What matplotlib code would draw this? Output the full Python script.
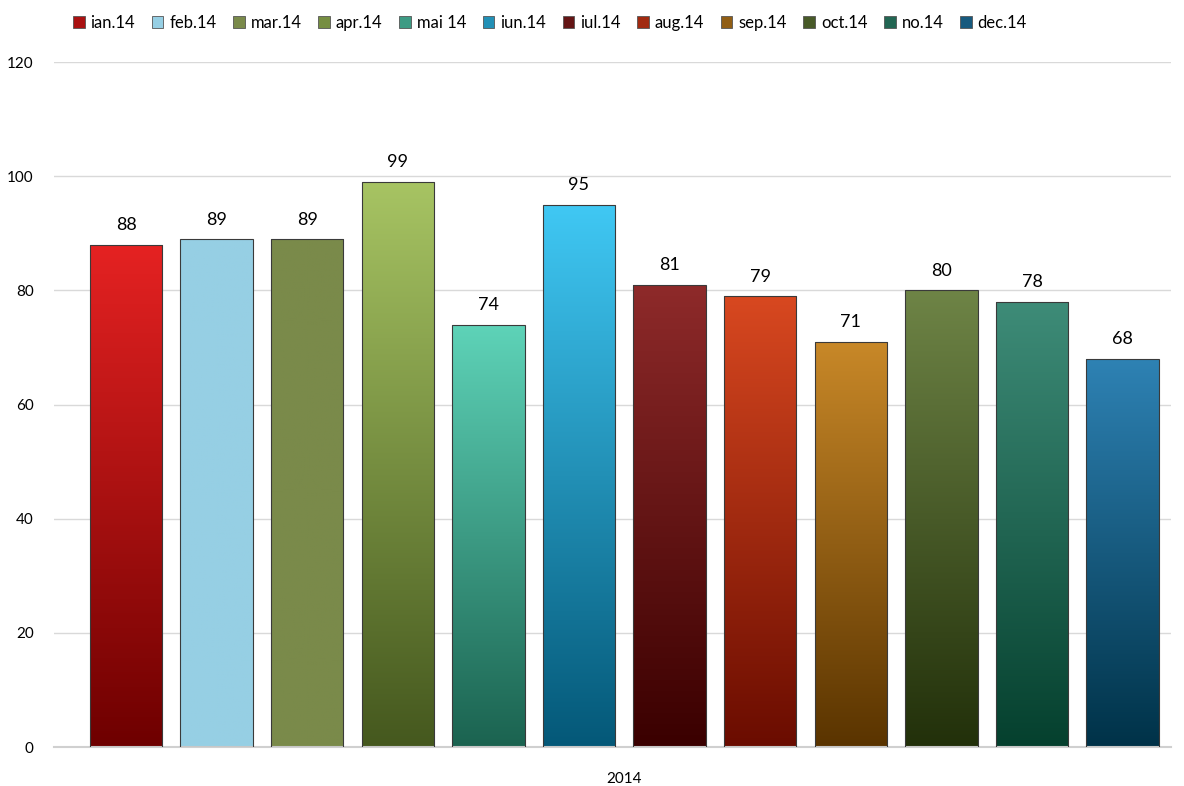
import numpy as np
import matplotlib.pyplot as plt
from matplotlib.colors import LinearSegmentedColormap, to_rgb

months = ['ian.14', 'feb.14', 'mar.14', 'apr.14', 'mai 14', 'iun.14',
          'iul.14', 'aug.14', 'sep.14', 'oct.14', 'no.14', 'dec.14']
values = [88, 89, 89, 99, 74, 95, 81, 79, 71, 80, 78, 68]
top_colors = ['#E52222', '#96CFE4', '#7A8A4A', '#A7C463', '#5ED3B8', '#40C8F4',
              '#8E2A2A', '#D84820', '#C88828', '#6E8446', '#3E8C78', '#2E82B4']
bottom_colors = ['#6E0000', '#96CFE4', '#7A8A4A', '#45581E', '#1B6350', '#045878',
                 '#3A0000', '#6A0C00', '#5A3400', '#22300A', '#05402E', '#003248']
category = '2014'

plt.rcParams['font.family'] = ['Lato', 'DejaVu Sans']

fig = plt.figure(figsize=(11.84, 7.86), dpi=100)
ax = fig.add_axes([0.046, 0.0496, 0.9434, 0.8715])

x = np.arange(len(values))
bars = ax.bar(x, values, width=0.8, color='none', edgecolor='#3a3a3a',
              linewidth=0.8, zorder=3, label='_nolegend_')

# Vertical gradient inside each bar, clipped to the bar shape.
grad = np.linspace(0, 1, 256).reshape(-1, 1)
for bar, top, bot in zip(bars, top_colors, bottom_colors):
    cmap = LinearSegmentedColormap.from_list('g', [bot, top])
    x0, w, h = bar.get_x(), bar.get_width(), bar.get_height()
    im = ax.imshow(grad, cmap=cmap, aspect='auto', origin='lower',
                   extent=[x0, x0 + w, 0, h], zorder=2)
    im.set_clip_path(bar)
    ax.text(bar.get_x() + w / 2, h + 2.0, str(int(h)), ha='center',
            va='bottom', fontsize=13, color='#000000')

# Legend handles use the middle colour of each gradient
for m, top, bot in zip(months, top_colors, bottom_colors):
    mid = tuple((a + b) / 2 for a, b in zip(to_rgb(top), to_rgb(bot)))
    ax.bar(0, 0, color=mid, edgecolor='#555555', linewidth=0.6, label=m)

ax.set_xlim(-0.79, 11.54)
ax.set_ylim(0, 120)
ax.set_yticks(range(0, 121, 20))
ax.set_xticks([5.5])
ax.set_xticklabels([category])
ax.grid(axis='y', color='#D9D9D9', linewidth=1, zorder=0)
for s in ['top', 'right', 'left']:
    ax.spines[s].set_visible(False)
ax.spines['bottom'].set_color('#D0D0D0')
ax.spines['bottom'].set_linewidth(1.5)
ax.tick_params(axis='both', length=0, labelsize=11, colors='#000000')
ax.tick_params(axis='y', pad=15)
ax.tick_params(axis='x', pad=18)

fig.legend(loc='upper left', bbox_to_anchor=(0.049, 1.0), ncol=12,
           frameon=False, fontsize=12, handlelength=0.7, handleheight=0.7,
           handletextpad=0.35, columnspacing=1.0)

fig.savefig('out.png', dpi=100)
